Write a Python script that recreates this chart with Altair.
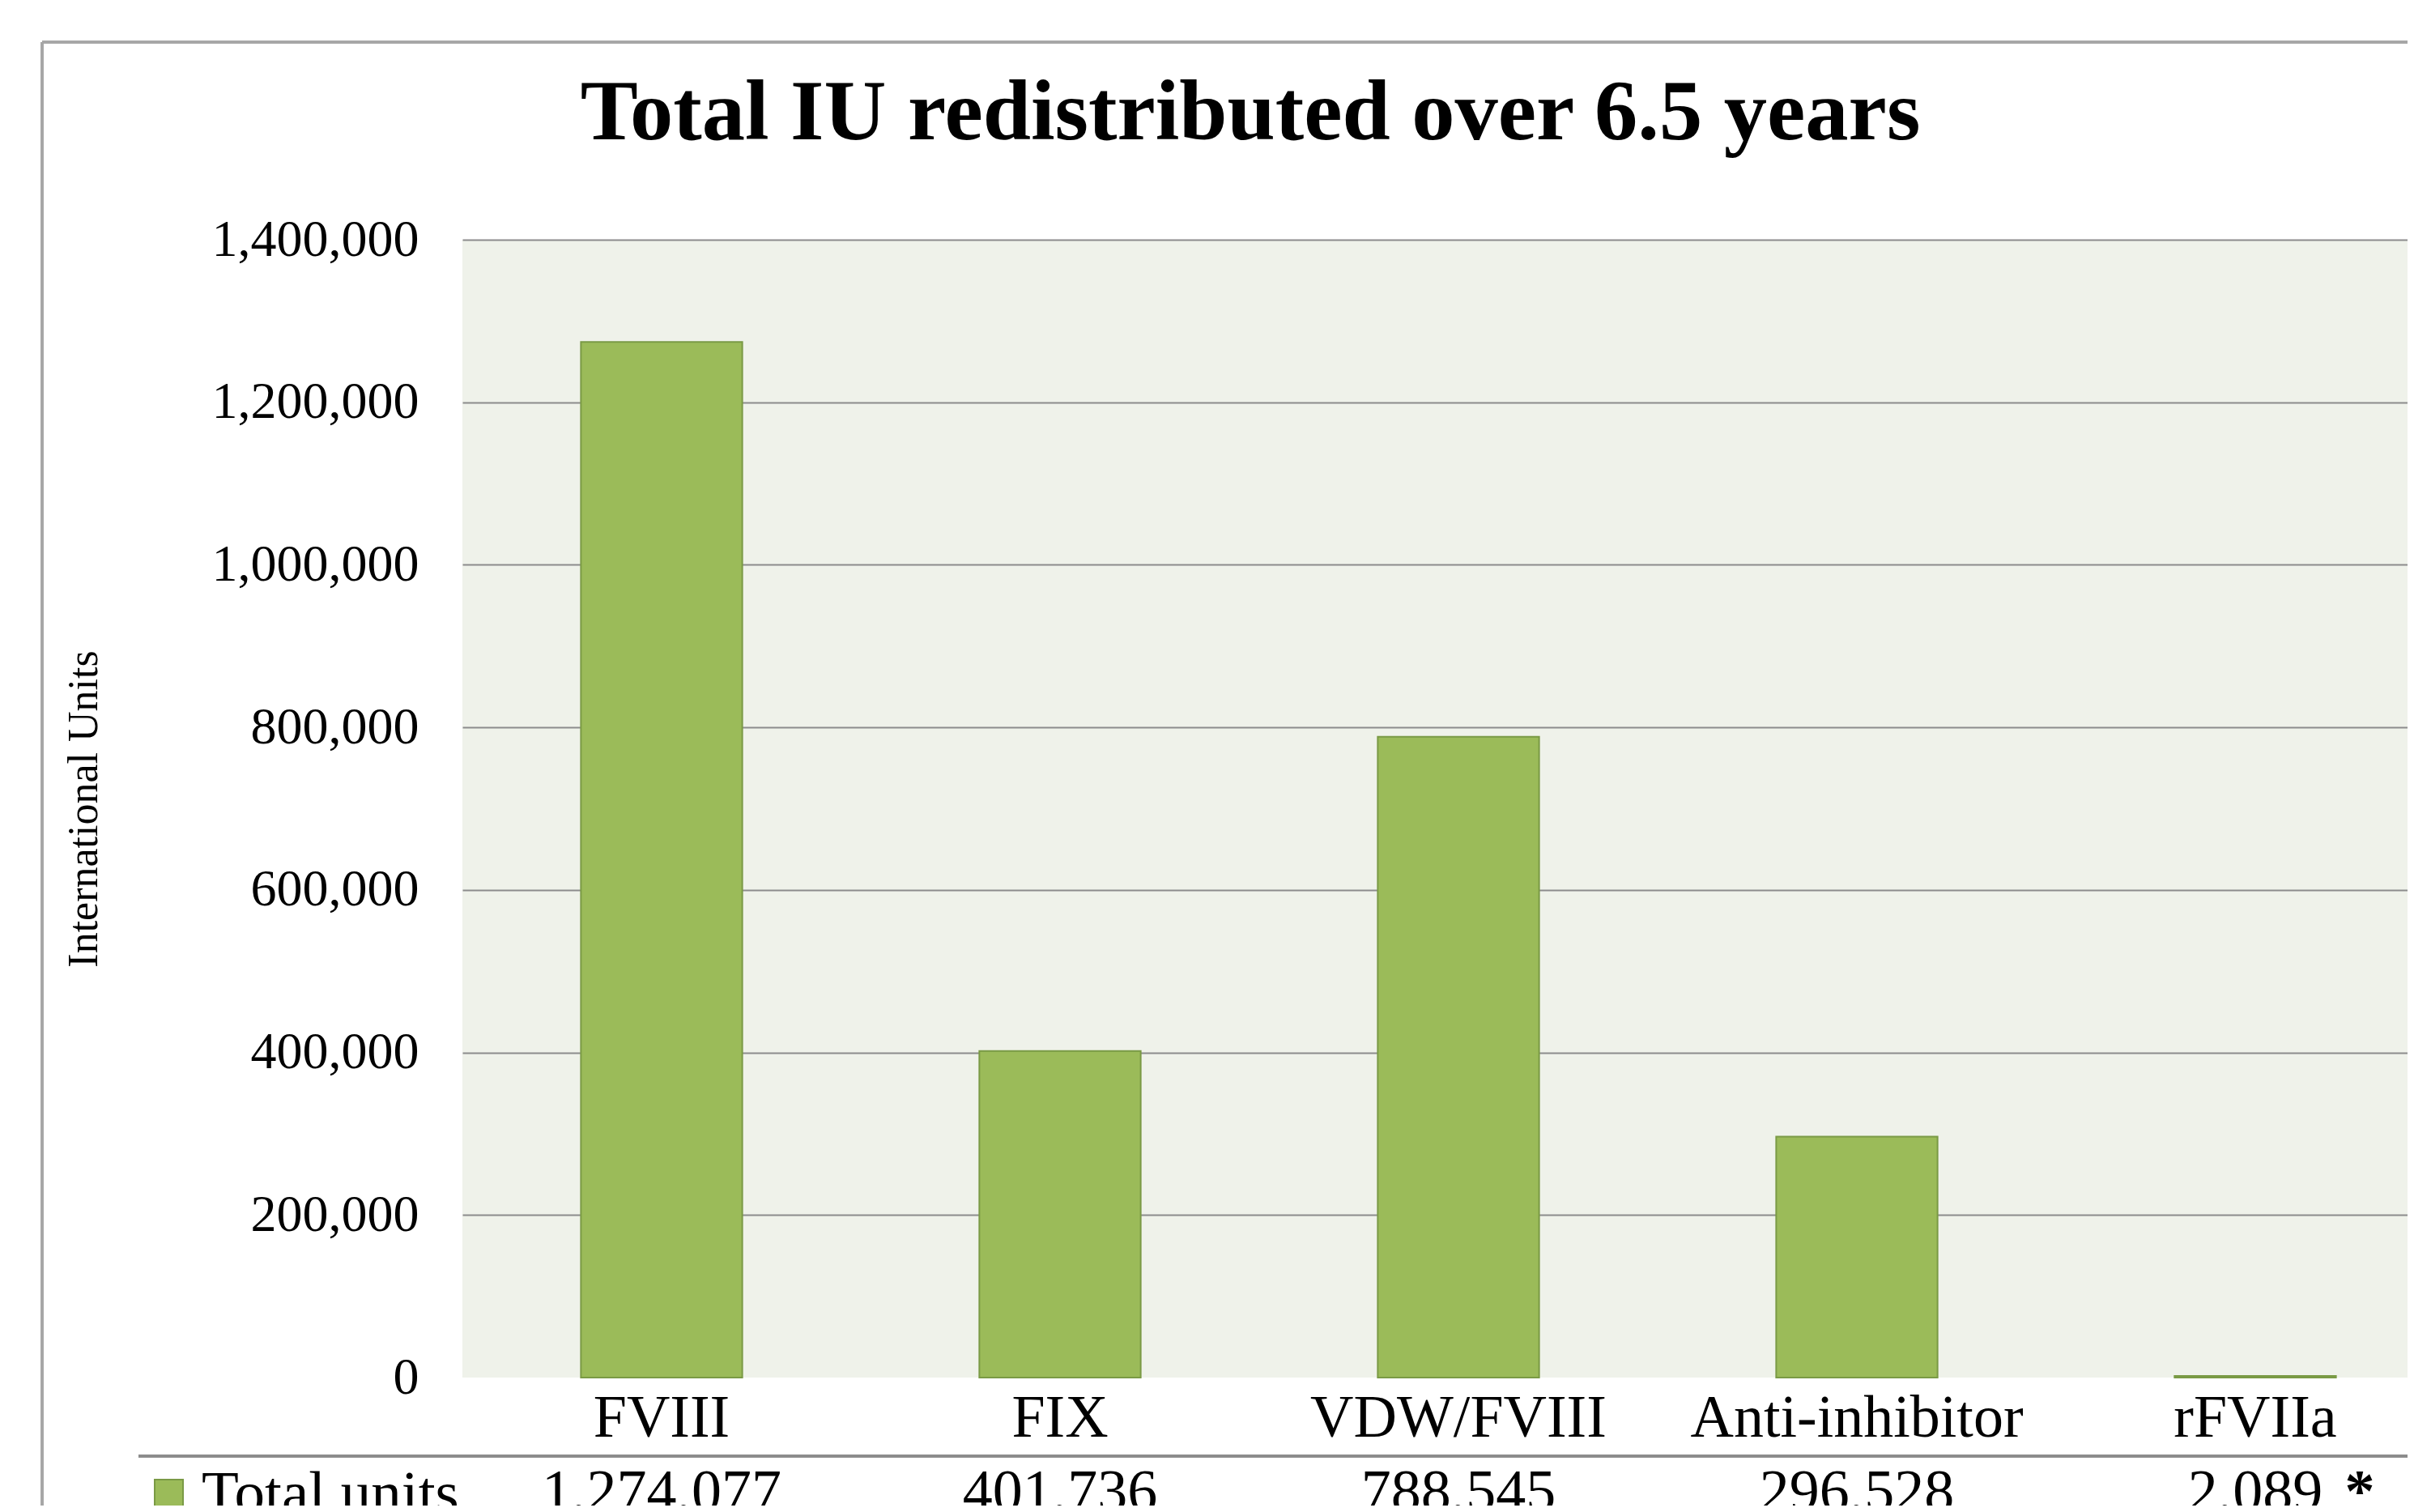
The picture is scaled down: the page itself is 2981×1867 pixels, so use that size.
import altair as alt
import pandas as pd

# ---- data ----
categories = ["FVIII", "FIX", "VDW/FVIII", "Anti-inhibitor", "rFVIIa"]
values = [1274077, 401736, 788545, 296528, 2089]
notes = ["", "", "", "", "*"]
series = ["Total units"] * 5
y_ticks = [0, 200000, 400000, 600000, 800000, 1000000, 1200000, 1400000]
title_text = ["Total IU redistributed over 6.5 years"]

df = pd.DataFrame({"category": categories, "units": values, "note": notes, "series": series})
tdf = pd.DataFrame({"t": title_text})

FONT = "Liberation Serif"
GREEN = "#9BBB59"
PW, PH = 2402, 1405

xscale = alt.Scale(domain=categories, range=[0, 2460], paddingInner=0.595, paddingOuter=0.2975)
x_enc = alt.X("category:N", scale=xscale, sort=categories,
              axis=alt.Axis(title=None, domain=False, ticks=False, grid=False, labelAngle=0,
                            labelFont=FONT, labelFontSize=74, labelColor="black", labelPadding=14,
                            labelLimit=0))

bars = alt.Chart(df).mark_bar(stroke="#7A9A45", strokeWidth=2).encode(
    x=x_enc,
    y=alt.Y("units:Q", scale=alt.Scale(domain=[0, 1400000], nice=False),
            axis=alt.Axis(values=y_ticks, format=",.0f", title="International Units",
                          domain=False, ticks=False, labelPadding=54, labelLimit=0,
                          labelFont=FONT, labelFontSize=64, labelColor="black", labelBaseline="middle",
                          gridColor="#8C8C8C", gridWidth=2,
                          gridOpacity={"condition": {"test": "datum.value === 0", "value": 0}, "value": 1},
                          titleFont=FONT, titleFontSize=52, titleFontWeight="normal", titleColor="black",
                          titleAngle=270, titleX=-441, titleY=PH / 2, titleAlign="center",
                          titleBaseline="bottom")),
    color=alt.Color("series:N", scale=alt.Scale(domain=["Total units"], range=[GREEN]),
                    legend=alt.Legend(title=None, orient="none", legendX=-400, legendY=1511,
                                      symbolType="square", symbolSize=1225,
                                      symbolStrokeColor="#7A9A45", symbolStrokeWidth=2,
                                      labelFont=FONT, labelFontSize=75, labelColor="black",
                                      labelOffset=3, padding=0, labelLimit=0)),
)

title_mark = alt.Chart(tdf).mark_text(font=FONT, fontSize=106.5, fontWeight="bold", color="black",
                                      baseline="alphabetic", align="center").encode(
    x=alt.value(973), y=alt.value(-124), text="t:N")

table_vals = alt.Chart(df).mark_text(font=FONT, fontSize=74, color="black",
                                     baseline="alphabetic", align="center").encode(
    x=alt.X("category:N", scale=xscale, sort=categories),
    y=alt.value(1570),
    text=alt.Text("units:Q", format=",.0f"),
)

table_notes = alt.Chart(df).mark_text(font=FONT, fontSize=74, fontWeight="bold", color="black",
                                      baseline="alphabetic", align="center", dx=129).encode(
    x=alt.X("category:N", scale=xscale, sort=categories),
    y=alt.value(1570),
    text="note:N",
)

table_rule = alt.Chart(df).mark_rule(color="#8C8C8C", strokeWidth=3).encode(
    x=alt.value(-400), x2=alt.value(PW + 20), y=alt.value(1502))

border_left = alt.Chart(df).mark_rule(color="#A6A6A6", strokeWidth=3).encode(
    x=alt.value(-519), y=alt.value(-244), y2=alt.value(PH + 200))
border_top = alt.Chart(df).mark_rule(color="#A6A6A6", strokeWidth=3).encode(
    x=alt.value(-519), x2=alt.value(PW + 20), y=alt.value(-244))

chart = alt.layer(bars, title_mark, table_vals, table_notes, table_rule, border_left, border_top).properties(
    width=PW, height=PH,
    autosize=alt.AutoSizeParams(type="none"),
    padding={"left": 563, "top": 288, "right": 0, "bottom": 158},
    background="white",
).configure_view(fill="#EFF2EA", stroke=None)

chart.save("out.html", embed_options={"renderer": "svg", "actions": False})
